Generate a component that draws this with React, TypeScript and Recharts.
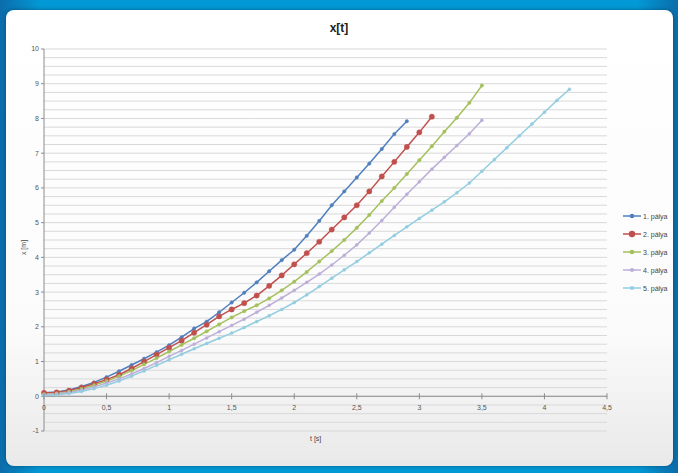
import { CartesianGrid, Line, LineChart, XAxis, YAxis } from 'recharts';

const TITLE = 'x[t]';
const X_TITLE = 't [s]';
const Y_TITLE = 'x [m]';

const T = [
  0, 0.1, 0.2, 0.3, 0.4, 0.5, 0.6, 0.7, 0.8, 0.9, 1, 1.1, 1.2, 1.3, 1.4, 1.5, 1.6, 1.7, 1.8, 1.9, 2, 2.1,
  2.2, 2.3, 2.4, 2.5, 2.6, 2.7, 2.8, 2.9, 3, 3.1, 3.2, 3.3, 3.4, 3.5, 3.6, 3.7, 3.8, 3.9, 4, 4.1, 4.2,
];

const RUN1 = [
  0.1, 0.12, 0.18, 0.28, 0.4, 0.55, 0.72, 0.9, 1.08, 1.27, 1.47, 1.7, 1.95, 2.15, 2.42, 2.7, 2.98, 3.28,
  3.6, 3.92, 4.22, 4.62, 5.05, 5.5, 5.9, 6.3, 6.7, 7.12, 7.55, 7.92,
];
const RUN2 = [
  0.1, 0.11, 0.16, 0.25, 0.36, 0.48, 0.62, 0.8, 1.0, 1.2, 1.4, 1.6, 1.83, 2.06, 2.3, 2.5, 2.68, 2.9, 3.18,
  3.48, 3.8, 4.12, 4.45, 4.8, 5.15, 5.5, 5.9, 6.33, 6.75, 7.18, 7.6, 8.05,
];
const RUN3 = [
  0.06, 0.08, 0.13, 0.21, 0.32, 0.44, 0.58, 0.74, 0.92, 1.1, 1.29, 1.48, 1.67, 1.87, 2.07, 2.27, 2.45, 2.62,
  2.82, 3.05, 3.3, 3.58, 3.88, 4.18, 4.5, 4.85, 5.22, 5.62, 6.0, 6.4, 6.8, 7.2, 7.62, 8.02, 8.45, 8.95,
];
const RUN4 = [
  0.05, 0.07, 0.11, 0.18, 0.27, 0.38, 0.5, 0.64, 0.8, 0.97, 1.15, 1.32, 1.5, 1.68, 1.86, 2.04, 2.22, 2.42,
  2.62, 2.83, 3.05, 3.28, 3.52, 3.78, 4.06, 4.36, 4.7, 5.06, 5.44, 5.82, 6.18, 6.54, 6.88, 7.22, 7.56, 7.95,
];
const RUN5 = [
  0.02, 0.04, 0.08, 0.14, 0.22, 0.32, 0.44, 0.58, 0.73, 0.89, 1.05, 1.21, 1.37, 1.52, 1.67, 1.82, 1.98, 2.15,
  2.32, 2.5, 2.7, 2.92, 3.16, 3.4, 3.64, 3.88, 4.13, 4.38, 4.63, 4.88, 5.12, 5.36, 5.6, 5.86, 6.14, 6.48,
  6.82, 7.16, 7.5, 7.84, 8.18, 8.52, 8.84,
];

const SERIES_NAMES = ['1. pálya', '2. pálya', '3. pálya', '4. pálya', '5. pálya'];
const SERIES_VALUES = [RUN1, RUN2, RUN3, RUN4, RUN5];
const COLORS = ['#4f7fbd', '#c0504d', '#a4c05c', '#bdaed8', '#93cde0'];
const DOT_R = [1.7, 2.6, 1.7, 1.5, 1.5];

const X_TICKS = [0, 0.5, 1, 1.5, 2, 2.5, 3, 3.5, 4, 4.5];
const Y_TICKS = [-1, 0, 1, 2, 3, 4, 5, 6, 7, 8, 9, 10];

const W = 678;
const H = 473;
const PLOT_TOP = 49;
const PLOT_BOTTOM = 431;
const PLOT_LEFT = 44;
const PLOT_RIGHT = 607;
const ZERO_Y = PLOT_TOP + ((PLOT_BOTTOM - PLOT_TOP) * 10) / 11;

const fmt = (v: number) => String(v).replace('.', ',');

const series = SERIES_VALUES.map((vals) => vals.map((x, i) => ({ t: T[i], x })));

function XTick(props: any) {
  const { x, payload } = props;
  return (
    <g>
      <line x1={x} x2={x} y1={ZERO_Y - 3} y2={ZERO_Y + 3} stroke="#8c8c8c" />
      <text x={x} y={ZERO_Y + 14} textAnchor="middle" fontSize={7} fill="#555">
        {fmt(payload.value)}
      </text>
    </g>
  );
}

// minor gridlines every 0.25 m
function gridLines({ offset }: any) {
  const out: number[] = [];
  const top = offset?.top ?? PLOT_TOP;
  const h = offset?.height ?? PLOT_BOTTOM - PLOT_TOP;
  for (let k = 0; k <= 44; k++) out.push(top + (h * k) / 44);
  return out;
}

export default function App() {
  return (
    <div
      style={{
        position: 'absolute',
        left: 0,
        top: 0,
        width: W,
        height: H,
        overflow: 'hidden',
        background: 'linear-gradient(90deg, #0b6cab 0%, #0399d6 6%, #0399d6 94%, #0b6cab 100%)',
        fontFamily: 'Arial, "Liberation Sans", sans-serif',
      }}
    >
      <div
        style={{
          position: 'absolute',
          left: 6,
          top: 10,
          width: 667,
          height: 456,
          borderRadius: 8,
          background: 'linear-gradient(180deg, #ffffff 0%, #fbfbfb 70%, #e9e9e9 100%)',
          boxShadow: '0 0 4px rgba(0,0,0,0.35)',
        }}
      />
      <div style={{ position: 'absolute', left: 0, top: 0 }}>
        <LineChart
          width={W}
          height={H}
          margin={{ top: PLOT_TOP, right: W - PLOT_RIGHT, bottom: 0, left: 4 }}
        >
          <CartesianGrid
            vertical={false}
            stroke="#d9d9d9"
            horizontalCoordinatesGenerator={gridLines}
          />
          <XAxis
            dataKey="t"
            type="number"
            domain={[0, 4.5]}
            ticks={X_TICKS}
            height={H - PLOT_BOTTOM}
            axisLine={false}
            tickLine={false}
            tick={<XTick />}
            allowDuplicatedCategory={false}
          />
          <YAxis
            type="number"
            domain={[-1, 10]}
            ticks={Y_TICKS}
            width={PLOT_LEFT - 4}
            axisLine={{ stroke: '#8c8c8c' }}
            tickLine={{ stroke: '#8c8c8c' }}
            tickSize={3}
            tick={{ fontSize: 7, fill: '#555' }}
            interval={0}
          />
          <Line
            data={[{ t: 0, x: 0 }, { t: 4.5, x: 0 }]}
            dataKey="x"
            stroke="#8c8c8c"
            strokeWidth={1}
            dot={false}
            activeDot={false}
            isAnimationActive={false}
            legendType="none"
          />
          {series.map((d, i) => (
            <Line
              key={SERIES_NAMES[i]}
              data={d}
              dataKey="x"
              name={SERIES_NAMES[i]}
              type="linear"
              stroke={COLORS[i]}
              strokeWidth={1.5}
              dot={{ r: DOT_R[i], fill: COLORS[i], stroke: COLORS[i], strokeWidth: 0.5 }}
              activeDot={false}
              isAnimationActive={false}
            />
          ))}
        </LineChart>
      </div>
      <div
        style={{
          position: 'absolute',
          left: 0,
          width: W,
          top: 21,
          textAlign: 'center',
          fontSize: 12,
          fontWeight: 'bold',
          color: '#222',
        }}
      >
        {TITLE}
      </div>
      <div
        style={{
          position: 'absolute',
          left: 8,
          top: 244,
          fontSize: 7,
          color: '#444',
          transform: 'rotate(-90deg)',
          transformOrigin: 'center',
          width: 30,
          textAlign: 'center',
        }}
      >
        {Y_TITLE}
      </div>
      <div style={{ position: 'absolute', left: 310, top: 435, fontSize: 7, color: '#444' }}>{X_TITLE}</div>
      <div style={{ position: 'absolute', left: 623, top: 207 }}>
        {SERIES_NAMES.map((n, i) => (
          <div key={n} style={{ display: 'flex', alignItems: 'center', height: 18 }}>
            <svg width={18} height={8}>
              <line x1={0} x2={18} y1={4} y2={4} stroke={COLORS[i]} strokeWidth={1.5} />
              <circle cx={9} cy={4} r={DOT_R[i] + 0.6} fill={COLORS[i]} />
            </svg>
            <span style={{ fontSize: 7, color: '#444', marginLeft: 2 }}>{n}</span>
          </div>
        ))}
      </div>
    </div>
  );
}
